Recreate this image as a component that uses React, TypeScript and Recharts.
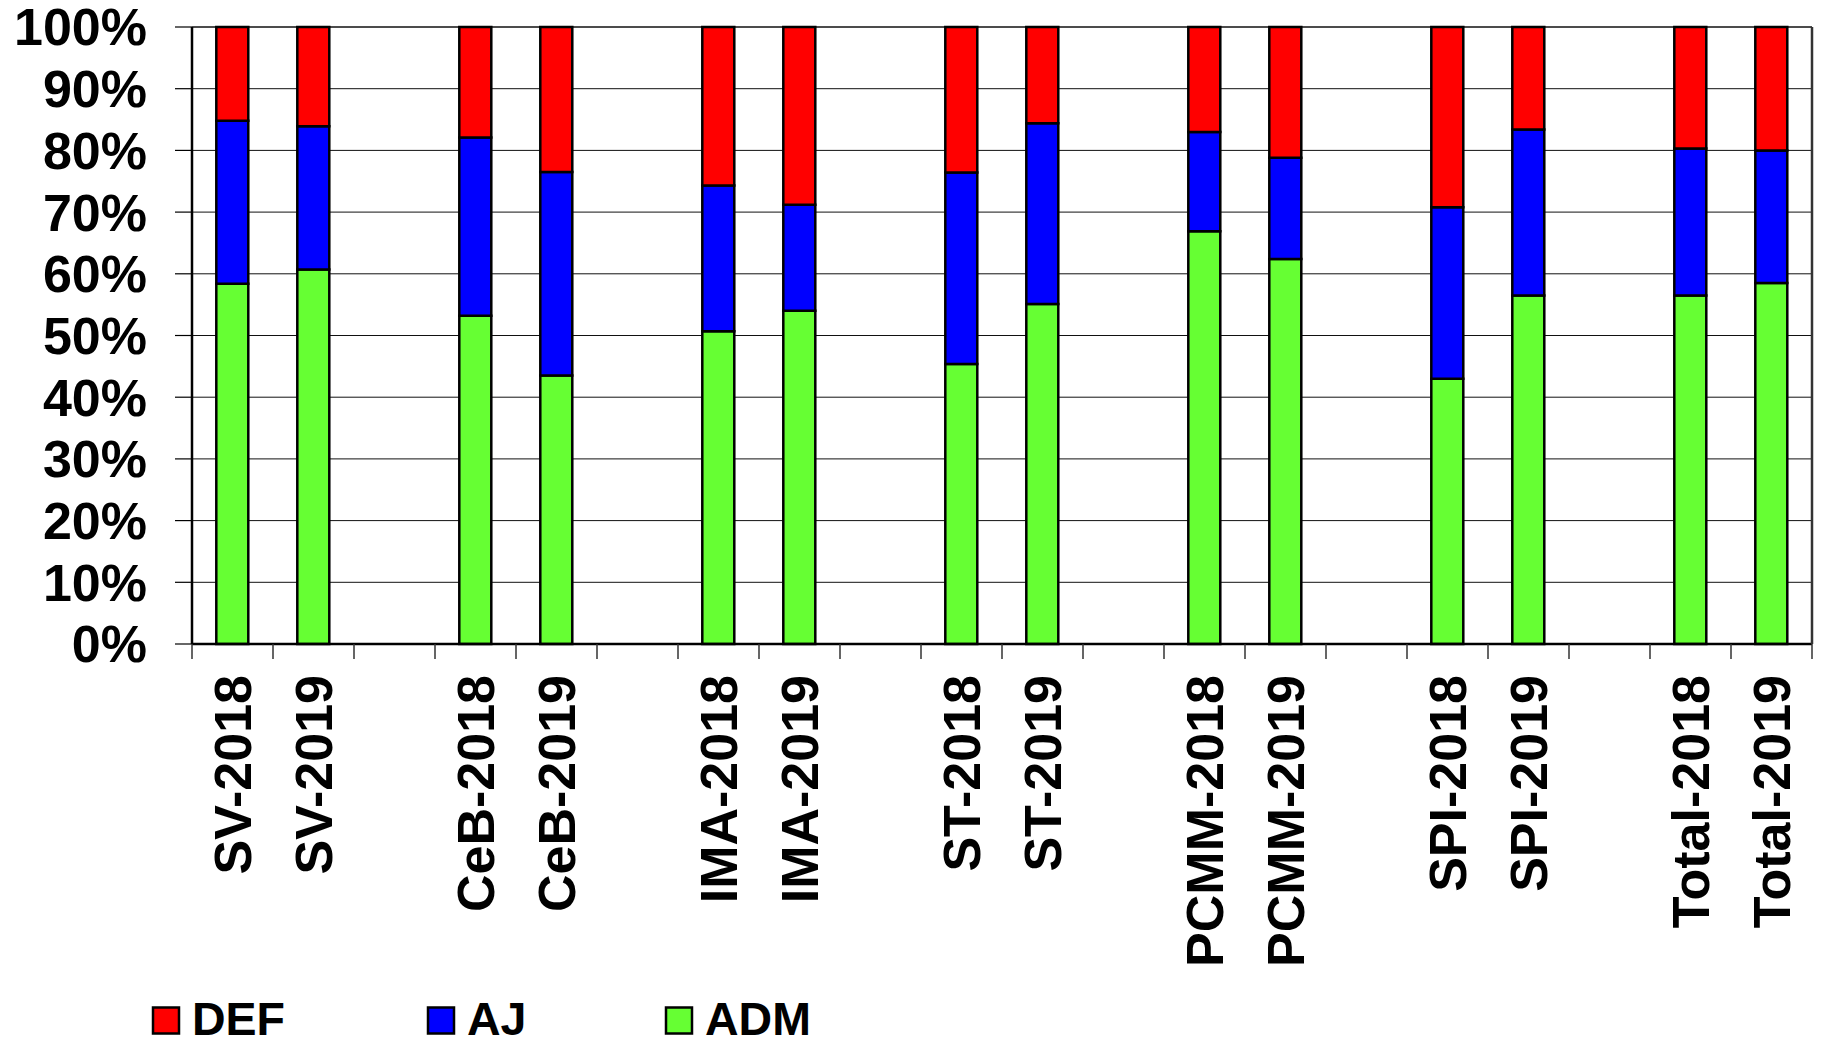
import { BarChart, Bar, XAxis, YAxis, CartesianGrid } from "recharts"

// bar labels, in the order they appear (pairs per unit)
const barLabels = [
  "SV-2018", "SV-2019",
  "CeB-2018", "CeB-2019",
  "IMA-2018", "IMA-2019",
  "ST-2018", "ST-2019",
  "PCMM-2018", "PCMM-2019",
  "SPI-2018", "SPI-2019",
  "Total-2018", "Total-2019",
]

// segment shares in %
const admValues = [58.4, 60.7, 53.2, 43.5, 50.7, 54.0, 45.4, 55.1, 66.9, 62.4, 43.0, 56.5, 56.5, 58.5]
const ajValues = [26.4, 23.2, 28.9, 33.0, 23.6, 17.2, 31.0, 29.3, 16.1, 16.4, 27.8, 26.9, 23.8, 21.5]
const defValues = [15.2, 16.1, 17.9, 23.5, 25.7, 28.8, 23.6, 15.6, 17.0, 21.2, 29.2, 16.6, 19.7, 20.0]

const yTicks = [0, 10, 20, 30, 40, 50, 60, 70, 80, 90, 100]

const series = [
  { key: "DEF", color: "#FF0000" },
  { key: "AJ", color: "#0000FF" },
  { key: "ADM", color: "#66FF33" },
]

const FONT = "'Liberation Sans', Arial, Helvetica, sans-serif"
const W = 1822
const H = 1040
const PLOT_LEFT = 192
const PLOT_RIGHT = 1812
const PLOT_TOP = 27
const PLOT_BOTTOM = 644

// two bars per unit, then an empty slot
type Row = { key: string; label: string; ADM: number | null; AJ: number | null; DEF: number | null }
const rows: Row[] = []
barLabels.forEach((label, i) => {
  rows.push({ key: label, label, ADM: admValues[i], AJ: ajValues[i], DEF: defValues[i] })
  if (i % 2 === 1 && i < barLabels.length - 1) {
    rows.push({ key: "gap" + i, label: "", ADM: null, AJ: null, DEF: null })
  }
})

const bandWidth = (PLOT_RIGHT - PLOT_LEFT) / rows.length

const XTick = ({ x, y, index }: any) => {
  const label = rows[index]?.label ?? ""
  const left = x - bandWidth / 2
  const right = x + bandWidth / 2
  return (
    <g>
      <line x1={left} x2={left} y1={y} y2={y + 15} stroke="#333" strokeWidth={1.5} />
      {index === rows.length - 1 && (
        <line x1={right} x2={right} y1={y} y2={y + 15} stroke="#333" strokeWidth={1.5} />
      )}
      {label && (
        <g transform={`translate(${x},${y + 31}) rotate(-90)`}>
          <text
            textAnchor="end"
            dy="0.36em"
            fontFamily={FONT}
            fontWeight="bold"
            fontSize={52}
            fill="#000"
          >
            {label}
          </text>
        </g>
      )}
    </g>
  )
}

const legendX = [152, 427, 665]

export default function App() {
  return (
    <div style={{ position: "absolute", left: 0, top: 0, width: W, height: H, background: "#fff" }}>
      <BarChart
        width={W}
        height={H}
        data={rows}
        barCategoryGap="30%"
        margin={{ top: PLOT_TOP, right: 0, left: 0, bottom: 0 }}
      >
        <CartesianGrid vertical={false} stroke="#111" strokeWidth={1} />
        <XAxis
          dataKey="key"
          interval={0}
          height={H - PLOT_BOTTOM}
          tickLine={false}
          tickSize={0}
          tickMargin={0}
          axisLine={{ stroke: "#000", strokeWidth: 2.5 }}
          tick={<XTick />}
        />
        <XAxis
          xAxisId="top"
          dataKey="key"
          orientation="top"
          height={0}
          tick={false}
          tickLine={false}
          axisLine={{ stroke: "#000", strokeWidth: 2.5 }}
        />
        <YAxis
          domain={[0, 100]}
          ticks={yTicks}
          width={PLOT_LEFT}
          interval={0}
          tickSize={17}
          tickMargin={28}
          tickFormatter={(v: number) => v + "%"}
          tickLine={{ stroke: "#000", strokeWidth: 1.2 }}
          axisLine={{ stroke: "#000", strokeWidth: 2.5 }}
          tick={{ fill: "#000", fontSize: 52, fontWeight: "bold", fontFamily: FONT }}
        />
        <YAxis
          yAxisId="right"
          orientation="right"
          domain={[0, 100]}
          width={W - PLOT_RIGHT}
          tick={false}
          tickLine={false}
          axisLine={{ stroke: "#333", strokeWidth: 2.5 }}
        />
        <Bar dataKey="ADM" stackId="a" fill="#66FF33" stroke="#000" strokeWidth={2.5} isAnimationActive={false} />
        <Bar dataKey="AJ" stackId="a" fill="#0000FF" stroke="#000" strokeWidth={2.5} isAnimationActive={false} />
        <Bar dataKey="DEF" stackId="a" fill="#FF0000" stroke="#000" strokeWidth={2.5} isAnimationActive={false} />
      </BarChart>
      <svg width={W} height={H} style={{ position: "absolute", left: 0, top: 0, pointerEvents: "none" }}>
        {series.map((s, i) => (
          <g key={s.key}>
            <rect x={legendX[i] + 1} y={1007.5} width={26} height={26} fill={s.color} stroke="#000" strokeWidth={2.5} />
            <text
              x={legendX[i] + 40}
              y={1035}
              fontFamily={FONT}
              fontWeight="bold"
              fontSize={46.5}
              fill="#000"
            >
              {s.key}
            </text>
          </g>
        ))}
      </svg>
    </div>
  )
}
